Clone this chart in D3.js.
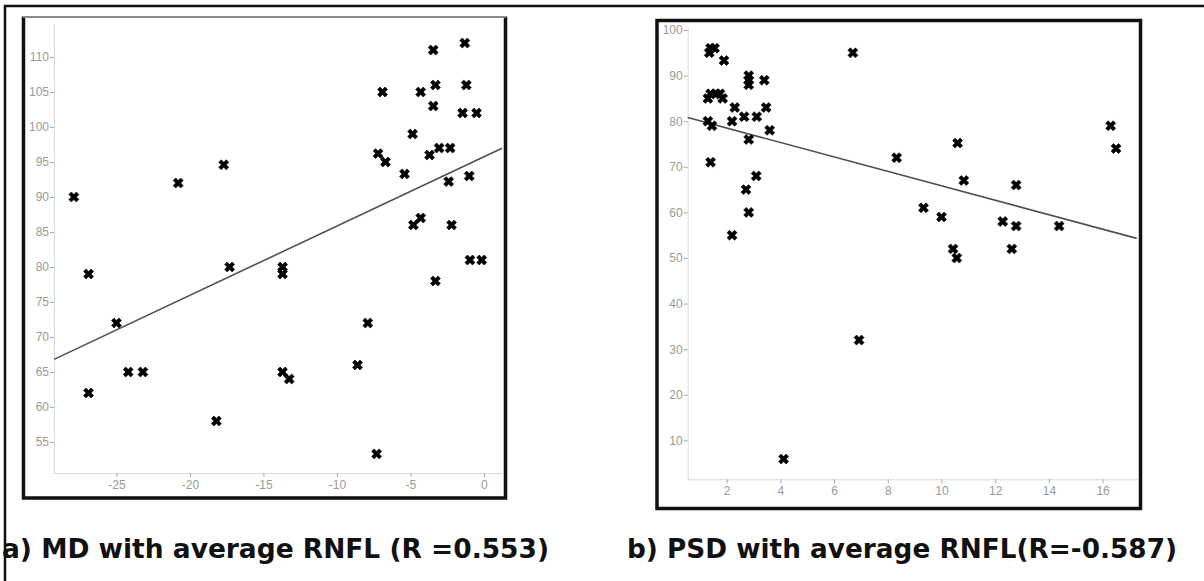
<!DOCTYPE html>
<html>
<head>
<meta charset="utf-8">
<script src="https://cdn.jsdelivr.net/npm/d3@7"></script>
<style>
  body { margin: 0; background: #fff; }
  svg { display: block; }
</style>
</head>
<body>
<svg id="fig" width="1204" height="581"></svg>
<script>
// a) MD vs average RNFL
var mdX = [-27.9, -26.9, -26.9, -25.0, -24.2, -23.2, -20.8, -17.7, -18.2, -17.3,
           -13.7, -13.7, -13.7, -13.25, -8.6, -7.9, -7.3, -7.2, -6.9, -6.7,
           -5.4, -4.85, -4.8, -4.3, -4.3, -3.7, -3.45, -3.45, -3.3, -3.3,
           -3.05, -2.3, -2.4, -2.2, -1.45, -1.3, -1.2, -1.0, -0.95, -0.5, -0.15];
var mdY = [90, 79, 62, 72, 65, 65, 92, 94.6, 58, 80,
           80, 79, 65, 64, 66, 72, 53.3, 96.2, 105, 95,
           93.3, 99, 86, 87, 105, 96, 111, 103, 106, 78,
           97, 97, 92.2, 86, 102, 112, 106, 93, 81, 102, 81];
var mdFit = [[-29.25, 66.8], [1.23, 96.96]];
var mdTicksX = [-25, -20, -15, -10, -5, 0];
var mdTicksY = [55, 60, 65, 70, 75, 80, 85, 90, 95, 100, 105, 110];
var mdCaption = "a) MD with average RNFL (R =0.553)";

// b) PSD vs average RNFL
var psdX = [1.3, 1.3, 1.35, 1.4, 1.55, 1.4, 1.45, 1.4, 1.6, 1.75,
            1.85, 1.9, 2.3, 2.2, 2.2, 2.65, 2.72, 2.82, 2.82, 2.82,
            2.82, 2.82, 3.12, 3.1, 3.4, 3.47, 3.6, 4.12, 6.7, 6.93,
            8.33, 9.33, 10.0, 10.43, 10.57, 10.6, 10.83, 12.28, 12.62, 12.78,
            12.78, 14.38, 16.3, 16.5];
var psdY = [85, 80, 95, 96, 96, 86, 79, 71, 86, 86,
            85, 93.3, 83, 80, 55, 81, 65, 90, 89, 88,
            76, 60, 81, 68, 89, 83, 78, 5.9, 95, 32,
            72, 61, 59, 52, 50, 75.2, 67, 58, 52, 66,
            57, 57, 79, 74];
var psdFit = [[0.55, 80.8], [17.27, 54.3]];
var psdTicksX = [2, 4, 6, 8, 10, 12, 14, 16];
var psdTicksY = [10, 20, 30, 40, 50, 60, 70, 80, 90, 100];
var psdCaption = "b) PSD with average RNFL(R=-0.587)";

window.addEventListener("load", makeFigure);
function makeFigure() {
    var svg = d3.select("#fig");

    // outer frame, only top and left edges are in the picture
    svg.append("path").attr("d", "M5,581 V6 H1204")
        .attr("fill", "none").attr("stroke", "#111").attr("stroke-width", 2.5);

    // panel a
    var xA = d3.scaleLinear().domain([-29.25, 1.23]).range([54, 502]);
    var yA = d3.scaleLinear().domain([50.57, 114.86]).range([473, 23]);
    svg.append("path").attr("d", "M23.5,16.5 V498 H505.5 V16.5")
        .attr("fill", "none").attr("stroke", "#111").attr("stroke-width", 3.5);
    svg.append("line").attr("x1", 23).attr("x2", 506).attr("y1", 17).attr("y2", 17)
        .attr("stroke", "#8a8a8a").attr("stroke-width", 2);
    svg.append("g").call(scatter, mdX, mdY, mdFit, xA, yA, mdTicksX, mdTicksY);
    svg.append("text").attr("x", 2).attr("y", 558)
        .attr("textLength", 547).text(mdCaption);

    // panel b
    var xB = d3.scaleLinear().domain([0.548, 17.27]).range([687.7, 1136.7]);
    var yB = d3.scaleLinear().domain([1.47, 100.44]).range([479.3, 28]);
    svg.append("rect").attr("x", 657).attr("y", 20.5)
        .attr("width", 483.5).attr("height", 488)
        .attr("fill", "none").attr("stroke", "#111").attr("stroke-width", 3.5);
    svg.append("g").call(scatter, psdX, psdY, psdFit, xB, yB, psdTicksX, psdTicksY);
    svg.append("text").attr("x", 627).attr("y", 558)
        .attr("textLength", 550).text(psdCaption);

    svg.selectAll("text[textLength]")
        .attr("lengthAdjust", "spacingAndGlyphs")
        .attr("font-family", "DejaVu Sans, Verdana, sans-serif")
        .attr("font-weight", "bold").attr("font-size", 26).attr("fill", "#111");
}

function scatter(sel, xs, ys, fit, scX, scY, ticksX, ticksY) {
    var x0 = scX.range()[0], yBase = scY.range()[0];
    var fmt = d => String(d);   // plain hyphen minus, like the source

    var gx = sel.append("g").attr("transform", "translate(0," + yBase + ")")
        .call(d3.axisBottom(scX).tickValues(ticksX).tickFormat(fmt).tickSize(4)
              .tickSizeOuter(0).tickPadding(3));
    var gy = sel.append("g").attr("transform", "translate(" + x0 + ",0)")
        .call(d3.axisLeft(scY).tickValues(ticksY).tickFormat(fmt).tickSize(4)
              .tickSizeOuter(0).tickPadding(1));

    [gx, gy].forEach(function(g) {
        g.select(".domain").attr("stroke", "#b4b4b4").attr("stroke-dasharray", "1,1");
        g.selectAll(".tick line").attr("stroke", "#a8a8a8");
        g.selectAll(".tick text").attr("fill", "#9a9a9a")
            .attr("font-family", "Liberation Sans, Arial, sans-serif")
            .attr("font-size", 12);
    });

    sel.append("path").datum(fit)
        .attr("d", d3.line().x(d => scX(d[0])).y(d => scY(d[1])))
        .attr("fill", "none").attr("stroke", "#505050").attr("stroke-width", 1.6);

    var mark = d3.symbol().type(d3.symbolCross).size(62);
    sel.append("g").selectAll("path").data(d3.range(xs.length)).enter()
        .append("path").attr("d", mark)
        .attr("transform", i => "translate(" + scX(xs[i]) + "," + scY(ys[i]) + ") rotate(45)")
        .attr("fill", "#000").attr("stroke", "#000").attr("stroke-width", 0.6)
        .attr("stroke-linejoin", "round");
}
</script>
</body>
</html>
